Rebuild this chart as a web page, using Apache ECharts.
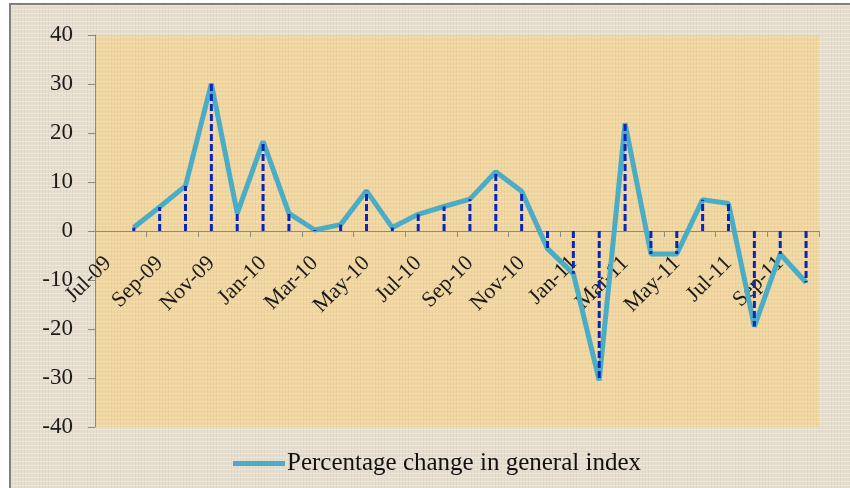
<!DOCTYPE html>
<html style="height: 100%">
<head>
	<meta charset="utf-8">
</head>
<body style="height: 100%; margin: 0; background: #fff">
<div id="container" style="width: 850px; height: 488px"></div>
<script type="text/javascript" src="https://cdn.jsdelivr.net/npm/echarts@6/dist/echarts.min.js"></script>
<script type="text/javascript">
    var months = ["Jul-09", "Aug-09", "Sep-09", "Oct-09", "Nov-09", "Dec-09",
        "Jan-10", "Feb-10", "Mar-10", "Apr-10", "May-10", "Jun-10", "Jul-10", "Aug-10", "Sep-10", "Oct-10", "Nov-10", "Dec-10",
        "Jan-11", "Feb-11", "Mar-11", "Apr-11", "May-11", "Jun-11", "Jul-11", "Aug-11", "Sep-11", "Oct-11"];
    // percentage change in general index (Jul-09 has no value)
    var pctChange = [null, 0.7, 4.9, 9.2, 30.1, 3.6,
        18.3, 3.6, 0.2, 1.3, 8.2, 0.7, 3.4, 5.0, 6.5, 12.1, 8.1, -3.6,
        -8.7, -30.5, 22.0, -4.7, -4.7, 6.4, 5.6, -19.5, -4.7, -10.5];
    var seriesName = "Percentage change in general index";

    var serif = "'Liberation Serif', 'Times New Roman', serif";

    // small woven texture, drawn once on a canvas and tiled
    function makeTexture(base, dark, light) {
        var c = document.createElement('canvas');
        c.width = 24; c.height = 24;
        var ctx = c.getContext('2d');
        ctx.fillStyle = base;
        ctx.fillRect(0, 0, 24, 24);
        ctx.fillStyle = dark;
        for (var i = 0; i < 24; i += 3) {
            ctx.fillRect(i, 0, 1, 24);
        }
        ctx.fillStyle = light;
        for (var j = 1; j < 24; j += 4) {
            ctx.fillRect(0, j, 24, 1);
        }
        return {image: c, repeat: 'repeat'};
    }

    var dom = document.getElementById("container");
    var myChart = echarts.init(dom);

    var dropData = [];
    for (var i = 0; i < pctChange.length; i++) {
        if (pctChange[i] !== null) dropData.push([i, pctChange[i]]);
    }

    var option = {
        backgroundColor: '#ffffff',
        animation: false,
        graphic: [{
            type: 'rect',
            z: -10,
            shape: {x: 10, y: 4, width: 850, height: 500},
            style: {fill: makeTexture('#e6dfd0', 'rgba(200,190,170,0.25)', 'rgba(255,255,255,0.3)'), stroke: '#7f7f7f', lineWidth: 2}
        }],
        grid: {
            left: 95,
            right: 31,
            top: 35,
            bottom: 61,
            show: true,
            borderWidth: 0,
            backgroundColor: makeTexture('#efd6a2', 'rgba(210,180,120,0.2)', 'rgba(255,240,210,0.3)'),
            containLabel: false,
            outerBoundsMode: 'none'
        },
        legend: {
            data: [{name: seriesName, icon: 'rect'}],
            left: 228,
            top: 446,
            itemWidth: 52,
            itemHeight: 5,
            itemGap: 0,
            textStyle: {fontFamily: serif, fontSize: 25, color: '#111', padding: [0, 0, 0, -3]}
        },
        xAxis: {
            type: 'category',
            data: months,
            boundaryGap: true,
            position: 'bottom',
            // the axis sits on the zero line (grid height 392, zero at the middle)
            offset: -196,
            axisLine: {onZero: false, lineStyle: {color: '#8a8a8a', width: 1}},
            axisTick: {show: true, interval: 1, length: 6, lineStyle: {color: '#8a8a8a'}},
            axisLabel: {
                interval: 1,
                rotate: 45,
                margin: 29,
                fontFamily: serif,
                fontSize: 22,
                color: '#1a1a1a'
            },
            splitLine: {show: false}
        },
        yAxis: {
            type: 'value',
            min: -40,
            max: 40,
            interval: 10,
            axisLine: {show: true, lineStyle: {color: '#8a8a8a'}},
            axisTick: {show: true, length: 7, lineStyle: {color: '#8a8a8a'}},
            axisLabel: {fontFamily: serif, fontSize: 23, color: '#1a1a1a', margin: 22},
            splitLine: {show: false}
        },
        series: [{
            name: seriesName,
            type: 'line',
            data: pctChange,
            symbol: 'none',
            connectNulls: false,
            lineStyle: {color: '#4bacc6', width: 5},
            itemStyle: {color: '#4bacc6'},
            z: 2
        }, {
            name: 'drop',
            type: 'custom',
            data: dropData,
            z: 3,
            renderItem: function (params, api) {
                var top = api.coord([api.value(0), api.value(1)]);
                var base = api.coord([api.value(0), 0]);
                return {
                    type: 'line',
                    shape: {x1: base[0], y1: base[1], x2: top[0], y2: top[1]},
                    style: {stroke: '#0a26b8', lineWidth: 3, lineDash: [7, 3]}
                };
            }
        }]
    };

    myChart.setOption(option);
</script>
</body>
</html>
